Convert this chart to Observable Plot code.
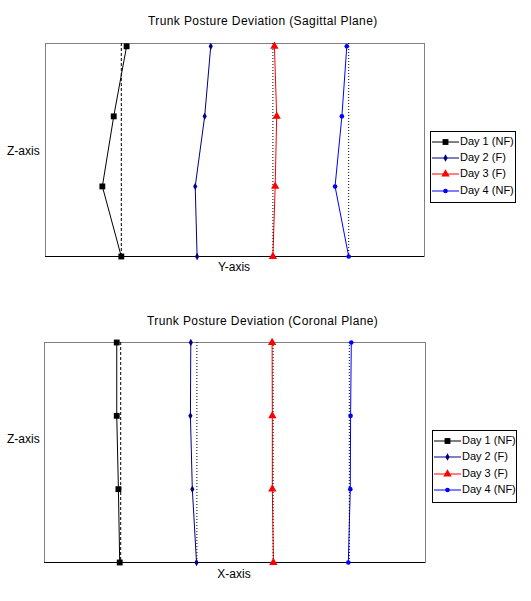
<!DOCTYPE html>
<html><head><meta charset="utf-8">
<script src="https://cdn.jsdelivr.net/npm/d3@7"></script>
<script src="https://cdn.jsdelivr.net/npm/@observablehq/plot@0.6"></script>
<style>
body{margin:0;background:#fff;font-family:"Liberation Sans",Arial,sans-serif;}
#wrap{position:relative;width:531px;height:601px;overflow:hidden;}
.abs{position:absolute;white-space:nowrap;color:#000;}
.title{font-size:12px;letter-spacing:0.4px;}
.lab{font-size:12px;}
.leglab{font-size:11px;}
.legend{position:absolute;border:1px solid #000;background:#fff;}
</style></head><body><div id="wrap"></div>
<script>
// ---- data ----
const days = ["Day 1 (NF)", "Day 2 (F)", "Day 3 (F)", "Day 4 (NF)"];
const colors = ["#000000", "#000080", "#ff0000", "#0000ff"];
const symbols = ["square", "diamond", "triangle", "circle"];
const markerR = [3.3, 2.2, 3.1, 2.3];
const zLevels = [0, 1, 2, 3];

// Sagittal plane (Y-axis deviation)
const sagDay1 = [1.00, 0.75, 0.90, 1.07];
const sagDay2 = [2.00, 1.975, 2.10, 2.18];
const sagDay3 = [3.00, 3.03, 3.05, 3.02];
const sagDay4 = [4.00, 3.82, 3.91, 3.975];
const sagRefs = [1, 3, 4];          // dotted reference lines visible
const sagRefDays = [0, 2, 3];

// Coronal plane (X-axis deviation)
const corDay1 = [0.987, 0.97, 0.948, 0.948];
const corDay2 = [1.995, 1.94, 1.915, 1.92];
const corDay3 = [3.004, 2.99, 2.99, 2.987];
const corDay4 = [3.987, 4.013, 4.017, 4.026];
const corRefs = [1, 2, 3, 4];
const corRefDays = [0, 1, 2, 3];

const wrap = document.getElementById("wrap");

function rows(series) {
  const out = [];
  series.forEach((vals, i) => vals.forEach((v, j) => out.push({day: days[i], idx: i, x: v, z: zLevels[j]})));
  return out;
}

function chart({series, refs, refDays, yMax, height, mt, mb, ml, mr}) {
  const data = rows(series);
  const marks = [
    Plot.frame({stroke: "#808080"}),
    Plot.ruleY([0], {stroke: "#000", strokeWidth: 1.2})
  ];
  days.forEach((d, i) => {
    marks.push(Plot.line(data.filter(r => r.idx === i), {x: "x", y: "z", stroke: colors[i], strokeWidth: 1}));
  });
  refs.forEach((r, k) => {
    marks.push(Plot.ruleX([r], {stroke: "#000", strokeWidth: 1, strokeDasharray: refDays[k] === 0 ? "3,2" : "1,2"}));
  });
  days.forEach((d, i) => {
    marks.push(Plot.dot(data.filter(r => r.idx === i), {x: "x", y: "z", fill: colors[i], stroke: "none", symbol: () => symbols[i], r: markerR[i]}));
  });
  return Plot.plot({
    width: 531, height,
    marginTop: mt, marginBottom: mb, marginLeft: ml, marginRight: mr,
    x: {domain: [0, 5], axis: null},
    y: {domain: [0, yMax], axis: null},
    symbol: {type: "identity"},
    style: {background: "transparent"},
    marks
  });
}

function place(el, left, topPx) {
  el.style.position = "absolute"; el.style.left = left + "px"; el.style.top = topPx + "px";
  wrap.appendChild(el);
}
function text(str, cls, left, topPx, center) {
  const d = document.createElement("div");
  d.className = "abs " + cls; d.textContent = str;
  d.style.left = left + "px"; d.style.top = topPx + "px";
  if (center) d.style.transform = "translateX(-50%)";
  wrap.appendChild(d);
}
function legend(left, topPx, w, h, rowYs) {
  const box = document.createElement("div");
  box.className = "legend";
  box.style.left = left + "px"; box.style.top = topPx + "px";
  box.style.width = w + "px"; box.style.height = h + "px";
  wrap.appendChild(box);
  days.forEach((d, i) => {
    const y = rowYs[i];
    const svg = d3.create("svg").attr("width", 30).attr("height", 10)
      .style("position", "absolute").style("left", (left + 2) + "px").style("top", (y - 5) + "px");
    svg.append("line").attr("x1", 0).attr("x2", 27).attr("y1", 5).attr("y2", 5).attr("stroke", colors[i]).attr("stroke-width", 1);
    const sym = {square: d3.symbolSquare, diamond: d3.symbolDiamond, triangle: d3.symbolTriangle, circle: d3.symbolCircle}[symbols[i]];
    svg.append("path").attr("transform", "translate(13.5,5)")
      .attr("d", d3.symbol(sym, Math.PI * markerR[i] * markerR[i])()).attr("fill", colors[i]);
    wrap.appendChild(svg.node());
    text(d, "leglab", left + 30, y - 7);
  });
}

// Top chart
const chartTop = chart({series: [sagDay1, sagDay2, sagDay3, sagDay4], refs: sagRefs, refDays: sagRefDays,
  yMax: 3.04, height: 300, mt: 43, mb: 44, ml: 45, mr: 107});
place(chartTop, 0, 0);
// Bottom chart
const chartBot = chart({series: [corDay1, corDay2, corDay3, corDay4], refs: corRefs, refDays: corRefDays,
  yMax: 3.0, height: 301, mt: 42, mb: 39, ml: 44, mr: 106});
place(chartBot, 0, 300);

text("Trunk Posture Deviation (Sagittal Plane)", "title", 148, 14, false);
text("Trunk Posture Deviation (Coronal Plane)", "title", 147, 314, false);
text("Y-axis", "lab", 234, 260, true);
text("X-axis", "lab", 234, 567, true);
text("Z-axis", "lab", 7, 144, false);
text("Z-axis", "lab", 7, 432, false);

legend(430, 131, 84, 70, [142, 158, 174, 191]);
legend(432, 430, 83, 71, [441, 457, 474, 490]);
</script></body></html>
